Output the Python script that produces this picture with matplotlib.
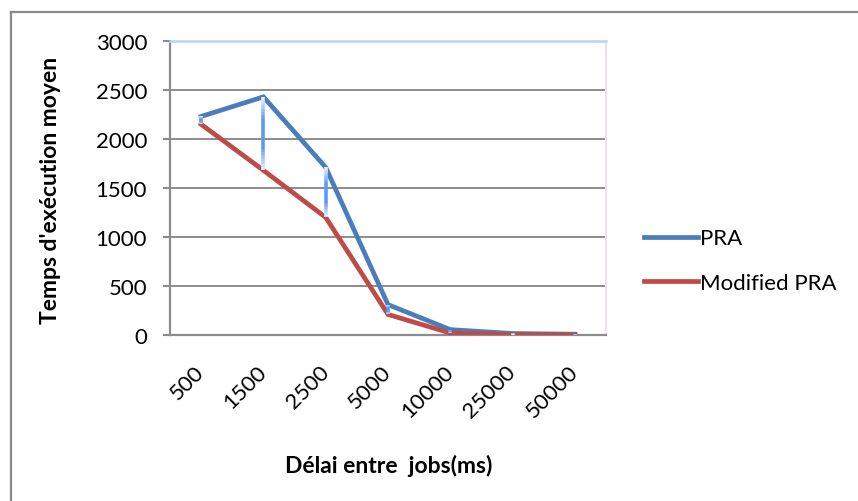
import numpy as np
import matplotlib.pyplot as plt
from matplotlib.collections import LineCollection
from matplotlib.colors import to_rgb

plt.rcParams['font.family'] = ['Lato', 'DejaVu Sans']

delays = ["500", "1500", "2500", "5000", "10000", "25000", "50000"]
pra = [2230, 2430, 1710, 310, 55, 15, 8]
modified_pra = [2150, 1680, 1200, 210, 20, 5, 3]

BLUE = "#4a7ebb"
RED = "#be4b48"
GRID = "#8c8c8c"
FS = 16

fig = plt.figure(figsize=(8.58, 5.02), dpi=100)
ax = fig.add_axes([170 / 858, 1 - 336 / 502, 436 / 858, 294 / 502])

x = np.arange(len(delays))
ax.plot(x, pra, color=BLUE, lw=3.4, solid_joinstyle="miter", label="PRA", zorder=3)
ax.plot(x, modified_pra, color=RED, lw=3.4, solid_joinstyle="miter",
        label="Modified PRA", zorder=3)

# high-low lines between the two series, white at the ends, blue in the middle
white = np.array(to_rgb("#f4f0fa"))
mid = np.array(to_rgb("#5b9cf2"))
segs, cols = [], []
for xi, a, b in zip(x, pra, modified_pra):
    lo, hi = min(a, b), max(a, b)
    hi = max(hi, lo + 12)
    ys = np.linspace(lo, hi, 25)
    for k in range(len(ys) - 1):
        t = (k + 0.5) / (len(ys) - 1)
        w = 1 - abs(2 * t - 1)
        segs.append([(xi, ys[k]), (xi, ys[k + 1])])
        cols.append(white + (mid - white) * min(1, w * 1.6))
ax.add_collection(LineCollection(segs, colors=cols, linewidths=2.6,
                                 capstyle="butt", zorder=4))

ax.set_xlim(-0.5, len(delays) - 0.5)
ax.set_ylim(0, 3000)
ax.set_yticks(range(0, 3001, 500))
ax.set_xticks(x)
ax.set_xticklabels(delays, rotation=45, ha="right", va="center",
                   rotation_mode="anchor", fontsize=FS)
ax.tick_params(axis="x", length=0, pad=24)
ax.tick_params(axis="y", length=5, width=1.5, color=GRID, pad=11.5, labelsize=FS)

ax.grid(axis="y", color=GRID, lw=1.4, zorder=1)
ax.set_axisbelow(True)
for side in ("left", "bottom"):
    ax.spines[side].set_color(GRID)
    ax.spines[side].set_linewidth(1.6)
ax.spines["top"].set_color("#b6d3f2")
ax.spines["top"].set_linewidth(1.8)
ax.spines["right"].set_color("#ece0f3")
ax.spines["right"].set_linewidth(1.5)

fig.text(51 / 858, 1 - 190 / 502, "Temps d'exécution moyen", rotation=90,
         ha="center", va="center", fontsize=16.5, fontweight="bold")
fig.text(389 / 858, 1 - 466 / 502, "Délai entre  jobs(ms)", ha="center",
         va="center", fontsize=16.5, fontweight="bold")

fig.legend(loc="center left", bbox_to_anchor=(644 / 858, 1 - 261.5 / 502),
           frameon=False, fontsize=FS, handlelength=2.43, handletextpad=0.1,
           labelspacing=1.1, borderpad=0, borderaxespad=0)

# chart frame: only left and top edges fall inside the image
fig.add_artist(plt.Line2D([10.5 / 858, 10.5 / 858], [0, 1 - 12.5 / 502],
                          color="#8a8a8a", lw=1.6))
fig.add_artist(plt.Line2D([10.5 / 858, 1], [1 - 12.5 / 502, 1 - 12.5 / 502],
                          color="#8a8a8a", lw=1.6))

fig.savefig("out.png", dpi=100)
